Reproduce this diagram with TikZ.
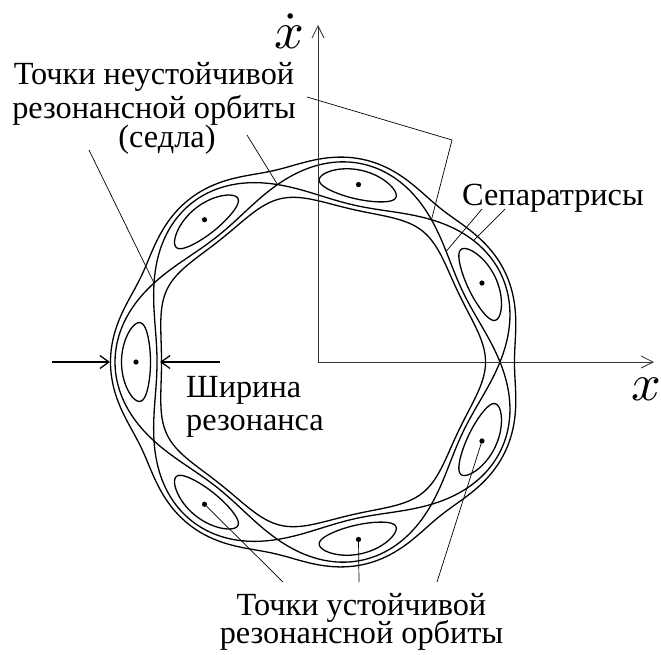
\documentclass[tikz,border=0pt]{standalone}
\usepackage{fontspec}
\setmainfont{Liberation Serif}
\usetikzlibrary{arrows.meta}
\begin{document}
\begin{tikzpicture}[x=1pt,y=-1pt,
  curve/.style={line width=1.3pt},
  leader/.style={line width=0.7pt},
  axisline/.style={line width=1pt, draw=black!80, -{Straight Barb[length=12pt,width=12pt,line width=0.8pt]}},
  lbl/.style={font=\fontsize{32.3}{34}\selectfont, inner sep=0pt, anchor=base},
  varlbl/.style={inner sep=0pt, anchor=base},
  widtharrow/.style={line width=1.3pt, -{Straight Barb[length=9pt,width=13pt,line width=1.3pt]}},
  ]
\useasboundingbox (0,0) rectangle (661,654);
\coordinate (O) at (318,362);
\coordinate (ytop) at (318,25);
\coordinate (xend) at (654,362);
\begin{scope}[shift={(318,362)}, yscale=-1]
  \foreach \k in {0,...,6} {
    \coordinate (i\k) at ({180+51.42857*\k}:182);
    \coordinate (s\k) at ({154.28571+51.42857*\k}:182);
  }
  % rotational curves
  \draw[curve] plot[variable=\t, domain=0:360, samples=361] (\t:{182+sqrt(650.25-441*(sin(3.5*(\t-180)))^2)}) -- cycle;
  \draw[curve] plot[variable=\t, domain=0:360, samples=361] (\t:{182-sqrt(650.25-441*(sin(3.5*(\t-180)))^2)}) -- cycle;
  % separatrices
  \draw[curve] plot[variable=\t, domain=0:360, samples=281] (\t:{182+21*abs(cos(3.5*(\t-180)))}) -- cycle;
  \draw[curve] plot[variable=\t, domain=0:360, samples=281] (\t:{182-21*abs(cos(3.5*(\t-180)))}) -- cycle;
  % islands
  \foreach \k in {0,...,6} {
    \draw[curve] plot[variable=\t, domain=0:355, samples=72, smooth cycle] ({180+51.42857*\k+2*asin(0.69048*sin(\t))/7}:{182+14.5*cos(\t)});
  }
  \coordinate (wl) at (180:208);
  \coordinate (wr) at (180:158);
  \coordinate (sepin) at (40.8:{182-21*abs(cos(3.5*(40.8-180)))});
  \coordinate (sepout) at (38:{182+21*abs(cos(3.5*(38-180)))});
\end{scope}
\foreach \k in {0,...,6} { \fill (i\k) circle[radius=2.6pt]; }
% axes
\draw[axisline] (O) -- (ytop);
\draw[axisline] (O) -- (xend);
\node[varlbl] (xdot) at (289,48) {\scalebox{5.2}{$\dot{x}$}};
\node[varlbl] (xlab) at (646,400) {\scalebox{5.2}{$x$}};
% labels
\node[lbl, align=center] (t1) at (154,147) {Точки неустойчивой\\резонансной орбиты\\[-5pt]\hspace*{26pt}(седла)};
\node[lbl, anchor=base west] (tsep) at (462,205) {Сепаратрисы};
\node[lbl, align=left, anchor=base west] (tw) at (186,430) {Ширина\\[-1pt]резонанса};
\node[lbl, align=center] (t2) at (361.5,643) {Точки устойчивой\\[-6pt]резонансной орбиты};
% leader lines
\coordinate (l1) at (89,150);
\coordinate (l2) at (247,135);
\coordinate (l3) at (307,97);
\coordinate (l3b) at (452,140);
\coordinate (la) at (482,209);
\coordinate (lb) at (505,209);
\coordinate (b1) at (283,582);
\coordinate (b2) at (359,582);
\coordinate (b3) at (437,582);
\draw[leader] (l1) -- (s0);
\draw[leader] (l2) -- (s6);
\draw[leader] (l3) -- (l3b) -- (s5);
\draw[leader] (la) -- (sepin);
\draw[leader] (lb) -- (sepout);
\draw[leader] (b1) -- (i1);
\draw[leader] (b2) -- (i2);
\draw[leader] (b3) -- (i3);
% width arrows
\coordinate (wa) at (52,362);
\coordinate (wb) at (220,362);
\draw[widtharrow] (wa) -- (wl);
\draw[widtharrow] (wb) -- (wr);
\end{tikzpicture}
\end{document}
